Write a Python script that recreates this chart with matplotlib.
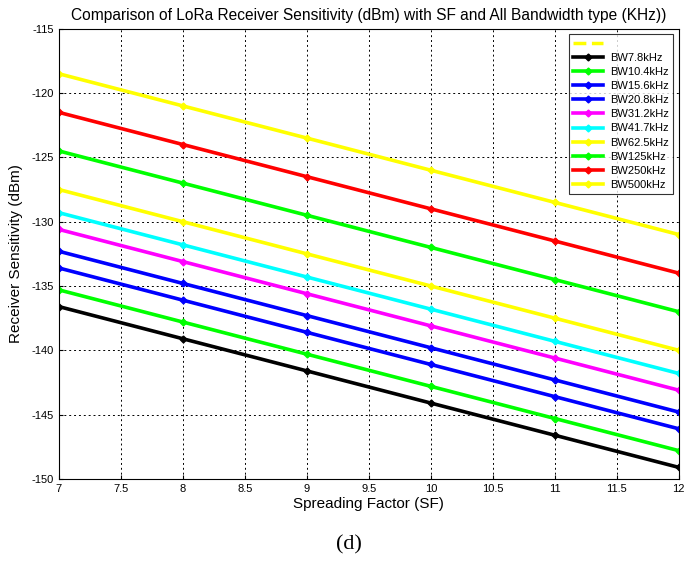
import matplotlib
matplotlib.use("Agg")
import matplotlib.pyplot as plt

plt.rcParams['font.family'] = ['Liberation Sans', 'DejaVu Sans']
plt.rcParams['axes.unicode_minus'] = False

sf = [7, 8, 9, 10, 11, 12]

bw_labels = ["BW7.8kHz", "BW10.4kHz", "BW15.6kHz", "BW20.8kHz", "BW31.2kHz",
             "BW41.7kHz", "BW62.5kHz", "BW125kHz", "BW250kHz", "BW500kHz"]

# receiver sensitivity (dBm)
bw7_8 = [-136.6, -139.1, -141.6, -144.1, -146.6, -149.1]
bw10_4 = [-135.3, -137.8, -140.3, -142.8, -145.3, -147.8]
bw15_6 = [-133.6, -136.1, -138.6, -141.1, -143.6, -146.1]
bw20_8 = [-132.3, -134.8, -137.3, -139.8, -142.3, -144.8]
bw31_2 = [-130.6, -133.1, -135.6, -138.1, -140.6, -143.1]
bw41_7 = [-129.3, -131.8, -134.3, -136.8, -139.3, -141.8]
bw62_5 = [-127.5, -130.0, -132.5, -135.0, -137.5, -140.0]
bw125 = [-124.5, -127.0, -129.5, -132.0, -134.5, -137.0]
bw250 = [-121.5, -124.0, -126.5, -129.0, -131.5, -134.0]
bw500 = [-118.5, -121.0, -123.5, -126.0, -128.5, -131.0]

series = [bw7_8, bw10_4, bw15_6, bw20_8, bw31_2, bw41_7, bw62_5, bw125, bw250, bw500]
colors = ["#000000", "#00ff00", "#0000ff", "#0000ff", "#ff00ff",
          "#00ffff", "#ffff00", "#00ff00", "#ff0000", "#ffff00"]

fig = plt.figure(figsize=(6.85, 5.75), dpi=100)
ax = fig.add_axes([0.086, 0.167, 0.905, 0.783])

# empty dashed entry at the top of the legend
ax.plot([], [], color="#ffff00", linestyle="--", linewidth=2.5, label=" ")
for vals, col, lab in zip(series, colors, bw_labels):
    ax.plot(sf, vals, color=col, linewidth=2.6, marker="D", markersize=3.5, label=lab)

ax.set_xlim(7, 12)
ax.set_ylim(-150, -115)
ax.set_xticks([7, 7.5, 8, 8.5, 9, 9.5, 10, 10.5, 11, 11.5, 12])
ax.set_xticklabels(["7", "7.5", "8", "8.5", "9", "9.5", "10", "10.5", "11", "11.5", "12"])
ax.set_yticks(range(-150, -114, 5))
ax.tick_params(labelsize=8, direction="in", length=3)
ax.grid(True, color="black", linestyle=(0, (2, 3)), linewidth=0.7)

ax.set_xlabel("Spreading Factor (SF)", fontsize=11, labelpad=2)
ax.set_ylabel("Receiver Sensitivity (dBm)", fontsize=11, labelpad=6)
ax.set_title("Comparison of LoRa Receiver Sensitivity (dBm) with SF and All Bandwidth type (KHz))",
             fontsize=11.2, pad=6)

leg = ax.legend(loc="upper right", fontsize=8, fancybox=False, edgecolor="black",
                handlelength=2.7, handletextpad=0.6, labelspacing=0.37, borderaxespad=0.5)
leg.get_frame().set_linewidth(0.8)

fig.text(0.51, 0.045, "(d)", fontsize=16, family=["Liberation Serif", "DejaVu Serif"], ha="center")

fig.savefig("out.png", dpi=100)
